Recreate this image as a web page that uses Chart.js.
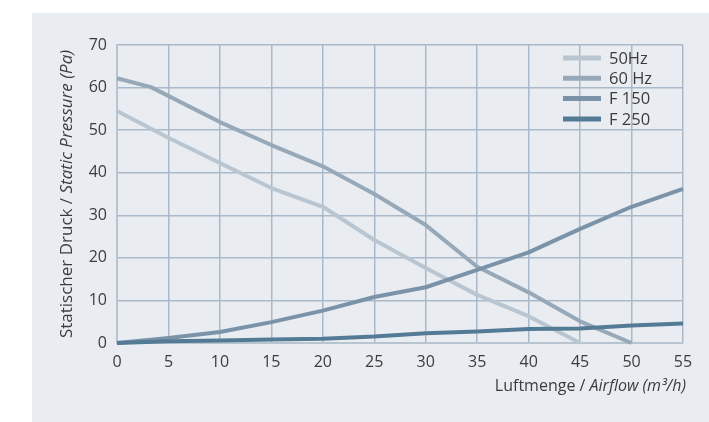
<!DOCTYPE html>
<html>
<head>
<meta charset="utf-8">
<script src="https://cdn.jsdelivr.net/npm/chart.js@4.4.0/dist/chart.umd.min.js"></script>
<style>
  html, body { margin: 0; padding: 0; background: #fff; }
  #panel { position: absolute; left: 32px; top: 13px; width: 677px; height: 409px; background: #e9edf1; }
  canvas { display: block; }
</style>
</head>
<body>
<div id="panel"><canvas id="chart" width="677" height="409"></canvas></div>
<script>
// --- Data ---
const seriesNames = ['50Hz', '60 Hz', 'F 150', 'F 250'];
const seriesColors = ['#b9c5d0', '#97a9b9', '#7a93a9', '#547b95'];

const flow50 = [0, 5, 10, 15, 20, 25, 30, 35, 40, 45];
const pres50 = [54.5, 48.2, 42.3, 36.4, 32, 24.2, 17.6, 11.3, 6.3, 0];

const flow60 = [0, 3.3, 10, 15, 20, 25, 30, 35, 40, 45, 50];
const pres60 = [62.2, 60.1, 51.9, 46.5, 41.5, 35, 27.7, 17.9, 11.9, 5.1, 0];

const flowF150 = [0, 5, 10, 15, 20, 25, 30, 35, 40, 45, 50, 55];
const presF150 = [0, 1.2, 2.6, 4.9, 7.6, 10.8, 13.1, 17.2, 21.3, 26.8, 32, 36.2];

const flowF250 = [0, 5, 10, 15, 20, 25, 30, 35, 40, 45, 50, 55];
const presF250 = [0, 0.4, 0.6, 0.8, 1.0, 1.5, 2.3, 2.7, 3.3, 3.4, 4.1, 4.6];

const xTicks = [0, 5, 10, 15, 20, 25, 30, 35, 40, 45, 50, 55];
const yTicks = [0, 10, 20, 30, 40, 50, 60, 70];

const toPoints = (xs, ys) => xs.map((x, i) => ({ x: x, y: ys[i] }));

const FONT = '"Open Sans", "Noto Sans", sans-serif';
const TEXT = '#3c3c3c';

// legend drawn inside the plot, top right
const insideLegend = {
    id: 'insideLegend',
    afterDraw(chart) {
        const ctx = chart.ctx;
        const area = chart.chartArea;
        ctx.save();
        ctx.font = '16.5px ' + FONT;
        ctx.textBaseline = 'middle';
        seriesNames.forEach((name, i) => {
            const y = area.top + 13 + i * 20.3;
            const x = area.right - 120;
            ctx.strokeStyle = seriesColors[i];
            ctx.lineWidth = 5;
            ctx.beginPath();
            ctx.moveTo(x, y);
            ctx.lineTo(x + 38, y);
            ctx.stroke();
            ctx.fillStyle = TEXT;
            ctx.fillText(name, x + 46, y + 1);
        });
        ctx.restore();
    }
};

// axis titles with a plain and an italic part
const axisTitles = {
    id: 'axisTitles',
    afterDraw(chart) {
        const ctx = chart.ctx;
        const area = chart.chartArea;
        ctx.save();
        ctx.fillStyle = TEXT;
        ctx.textBaseline = 'middle';

        // x title, right aligned
        let plain = '16px ' + FONT;
        let ital = 'italic 16px ' + FONT;
        const xa = 'Luftmenge / ', xb = 'Airflow (m\u00b3/h)';
        ctx.font = ital;
        const wb = ctx.measureText(xb).width;
        ctx.font = plain;
        const wa = ctx.measureText(xa).width;
        const x0 = area.right + 3 - wa - wb;
        const y0 = area.bottom + 43;
        ctx.fillText(xa, x0, y0);
        ctx.font = ital;
        ctx.fillText(xb, x0 + wa, y0);

        // y title, rotated
        plain = '17px ' + FONT;
        ital = 'italic 17px ' + FONT;
        const ya = 'Statischer Druck / ', yb = 'Static Pressure (Pa)';
        ctx.font = plain;
        const va = ctx.measureText(ya).width;
        ctx.font = ital;
        const vb = ctx.measureText(yb).width;
        ctx.translate(35, (area.top + area.bottom) / 2);
        ctx.rotate(-Math.PI / 2);
        const s = -(va + vb) / 2;
        ctx.font = plain;
        ctx.fillText(ya, s, 0);
        ctx.font = ital;
        ctx.fillText(yb, s + va, 0);
        ctx.restore();
    }
};

new Chart(document.getElementById('chart').getContext('2d'), {
    type: 'line',
    data: {
        datasets: [
            { label: seriesNames[0], data: toPoints(flow50, pres50), borderColor: seriesColors[0], order: 4 },
            { label: seriesNames[1], data: toPoints(flow60, pres60), borderColor: seriesColors[1], order: 3 },
            { label: seriesNames[2], data: toPoints(flowF150, presF150), borderColor: seriesColors[2], order: 2 },
            { label: seriesNames[3], data: toPoints(flowF250, presF250), borderColor: seriesColors[3], order: 1 }
        ]
    },
    options: {
        responsive: false,
        animation: false,
        clip: false,
        elements: {
            line: { borderWidth: 4, tension: 0, fill: false, borderCapStyle: 'butt', borderJoinStyle: 'round' },
            point: { radius: 0 }
        },
        layout: { padding: { top: 32, right: 26, left: 0, bottom: 0 } },
        plugins: {
            legend: { display: false },
            tooltip: { enabled: false }
        },
        scales: {
            x: {
                type: 'linear',
                min: 0,
                max: 55,
                afterFit: s => { s.height = 79; },
                afterBuildTicks: s => { s.ticks = xTicks.map(v => ({ value: v })); },
                grid: { color: '#a9b9c9', lineWidth: 1.5, drawTicks: false },
                border: { color: '#b8c5d1', width: 2 },
                ticks: { padding: 10, color: TEXT, font: { family: FONT, size: 16 } }
            },
            y: {
                min: 0,
                max: 70,
                afterFit: s => { s.width = 85; },
                afterBuildTicks: s => { s.ticks = yTicks.map(v => ({ value: v })); },
                grid: { color: '#a9b9c9', lineWidth: 1.5, drawTicks: false },
                border: { color: '#b8c5d1', width: 2 },
                ticks: { padding: 10, color: TEXT, font: { family: FONT, size: 16 } }
            }
        }
    },
    plugins: [insideLegend, axisTitles]
});
</script>
</body>
</html>
